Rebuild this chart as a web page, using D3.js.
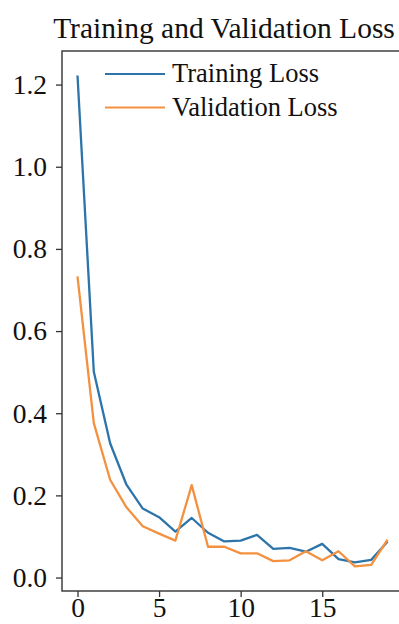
<!DOCTYPE html>
<html>
<head>
<meta charset="utf-8">
<script src="https://cdn.jsdelivr.net/npm/d3@7"></script>
<style>
  html, body { margin: 0; padding: 0; background: #fff; }
  svg { display: block; }
  text { font-family: "Liberation Serif", "Times New Roman", serif; fill: #111; }
</style>
</head>
<body>
<svg id="chart" width="399" height="624"></svg>
<script>
const epochs = d3.range(20);
const trainingLoss = [1.222, 0.501, 0.327, 0.226, 0.168, 0.147, 0.112, 0.145, 0.109, 0.088,
                      0.090, 0.104, 0.070, 0.072, 0.063, 0.082, 0.045, 0.037, 0.043, 0.087];
const validationLoss = [0.733, 0.376, 0.238, 0.171, 0.125, 0.107, 0.090, 0.225, 0.075, 0.075,
                        0.059, 0.059, 0.040, 0.042, 0.064, 0.042, 0.064, 0.027, 0.031, 0.092];
const seriesNames = ["Training Loss", "Validation Loss"];
const seriesColors = ["#2c74a9", "#f39140"];
const xTicks = [0, 5, 10, 15];
const yTicks = [0, 0.2, 0.4, 0.6, 0.8, 1.0, 1.2];

const width = 399, height = 624;
const margin = { top: 51, right: -4, bottom: 33, left: 62 };
const svg = d3.select("#chart");

// matplotlib style 5% margins
function padded(lo, hi) {
  const m = (hi - lo) * 0.05;
  return [lo - m, hi + m];
}

const allValues = trainingLoss.concat(validationLoss);
const x = d3.scaleLinear()
  .domain(padded(0, epochs.length - 1))
  .range([margin.left, width - margin.right]);
const y = d3.scaleLinear()
  .domain(padded(d3.min(allValues), d3.max(allValues)))
  .range([height - margin.bottom, margin.top]);

// Lines
const line = d3.line()
  .x((d, i) => x(epochs[i]))
  .y(d => y(d));

[trainingLoss, validationLoss].forEach((values, i) => {
  svg.append("path")
    .datum(values)
    .attr("fill", "none")
    .attr("stroke", seriesColors[i])
    .attr("stroke-width", 2.3)
    .attr("stroke-linejoin", "round")
    .attr("d", line);
});

// Axes
const xAxis = svg.append("g")
  .attr("transform", `translate(0,${height - margin.bottom})`)
  .call(d3.axisBottom(x).tickValues(xTicks).tickSize(6).tickPadding(1).tickFormat(d3.format("d")));
const yAxis = svg.append("g")
  .attr("transform", `translate(${margin.left},0)`)
  .call(d3.axisLeft(y).tickValues(yTicks).tickSize(6).tickPadding(9).tickFormat(d3.format(".1f")));

[xAxis, yAxis].forEach(g => {
  g.select(".domain").remove();
  g.selectAll(".tick line").attr("stroke", "#333").attr("stroke-width", 1.3);
  g.selectAll(".tick text").attr("font-size", 27.5).attr("fill", "#111")
    .style("font-family", "'Liberation Serif', 'Times New Roman', serif");
});
xAxis.selectAll(".tick text").attr("dy", "0.7em");

// Spines
const [x0, x1] = x.range();
const [y0, y1] = y.range();
svg.append("rect")
  .attr("x", x0).attr("y", y1)
  .attr("width", x1 - x0).attr("height", y0 - y1)
  .attr("fill", "none")
  .attr("stroke", "#333")
  .attr("stroke-width", 1.4);

// Title
svg.append("text")
  .attr("x", 224)
  .attr("y", 38)
  .attr("text-anchor", "middle")
  .attr("font-size", 29.5)
  .text("Training and Validation Loss");

// Legend
const legend = svg.append("g");
seriesNames.forEach((name, i) => {
  const ly = 74 + i * 33.5;
  legend.append("line")
    .attr("x1", 105).attr("x2", 165)
    .attr("y1", ly).attr("y2", ly)
    .attr("stroke", seriesColors[i])
    .attr("stroke-width", 2.2);
  legend.append("text")
    .attr("x", 172)
    .attr("y", ly + 8)
    .attr("font-size", 26.5)
    .text(name);
});
</script>
</body>
</html>
